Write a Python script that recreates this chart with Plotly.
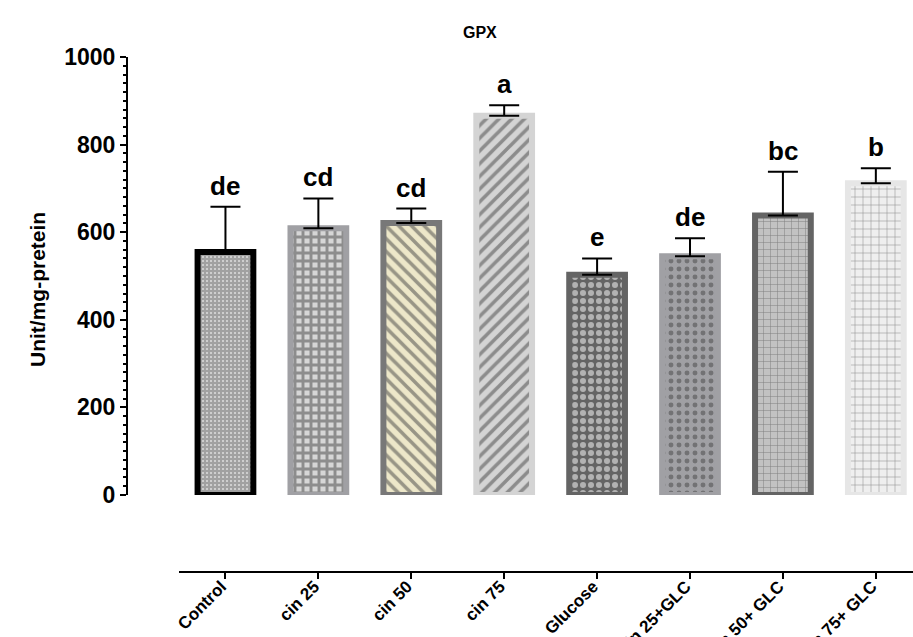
import plotly.graph_objects as go

categories = ["Control", "cin 25", "cin 50", "cin 75", "Glucose", "cin 25+GLC", "cin 50+ GLC", "cin 75+ GLC"]
means = [555, 609, 621, 866, 503, 545, 638, 712]
sem = [103, 68, 33, 24, 37, 41, 100, 34]
letters = ["de", "cd", "cd", "a", "e", "de", "bc", "b"]

border_colors = ["#000000", "#a0a0a4", "#787878", "#d4d4d4", "#646464", "#a0a0a4", "#646464", "#e6e6e6"]
pat_shapes = ["+", "+", "\\", "/", ".", ".", "+", "+"]
pat_fg = ["#000000", "#a9a9ad", "#7a7a7a", "#a6a6a6", "#d2d2d2", "#86868a", "#5a5a5a", "#d6d6d6"]
pat_bg = ["#ffffff", "#d6d6d6", "#ede7c9", "#d4d4d4", "#646464", "#a0a0a4", "#c2c2c2", "#efefef"]
pat_size = [4, 8, 9, 9, 8, 8, 7, 8]
pat_sol = [0.9, 0.6, 0.4, 0.4, 0.45, 0.3, 0.15, 0.15]

L, R, T, B = 127, 0, 57, 65
W, H = 913, 637
pw = W - L - R
ph = H - T - B
x_start = (179 - L) / pw
y0_frac = (572 - 495) / ph

fig = go.Figure()
fig.add_trace(go.Bar(
    x=categories, y=means, width=0.6,
    marker=dict(
        color=pat_bg,
        line=dict(color=border_colors, width=6),
        pattern=dict(shape=pat_shapes, fgcolor=pat_fg,
                     size=pat_size, solidity=pat_sol, fillmode="overlay"),
    ),
    error_y=dict(type="data", symmetric=False, array=sem, arrayminus=[0]*len(sem),
                 color="black", thickness=2, width=15),
    showlegend=False,
))

for c, m, s, t in zip(categories, means, sem, letters):
    fig.add_annotation(x=c, y=m + s, text=t, showarrow=False, yanchor="bottom",
                       yshift=4, font=dict(family="Liberation Sans", size=26, color="black", weight="bold"))

fig.add_annotation(xref="paper", yref="paper", x=(480 - L) / pw, y=(572 - 32) / ph,
                   xanchor="center", yanchor="middle",
                   text="<b>GPX</b>", showarrow=False, font=dict(family="Liberation Sans", size=16, color="black"))
fig.add_annotation(xref="paper", yref="paper", x=(37 - L) / pw, y=(572 - 290) / ph,
                   xanchor="center", yanchor="middle",
                   text="<b>Unit/mg-pretein</b>", showarrow=False, textangle=-90,
                   font=dict(family="Liberation Sans", size=21, color="black"))

fig.update_layout(
    width=W, height=H, margin=dict(l=L, r=R, t=T, b=B, autoexpand=False),
    plot_bgcolor="white", paper_bgcolor="white", bargap=0.4,
    xaxis=dict(domain=[x_start, 1], range=[-0.5, 7.4], anchor="free", position=0,
               showline=True, linecolor="black", linewidth=2, ticks="outside", ticklen=6,
               tickwidth=2, tickcolor="black", tickangle=-45, showgrid=False, automargin=False,
               ticklabelstandoff=-9, ticklabelshift=-4,
               tickfont=dict(family="Liberation Sans", size=17, color="black", weight="bold")),
    yaxis=dict(domain=[y0_frac, 1], range=[0, 1000], anchor="free", position=0,
               showline=True, linecolor="black", linewidth=2, ticks="outside", ticklen=6,
               tickwidth=2, tickcolor="black", dtick=200, showgrid=False, zeroline=False,
               automargin=False,
               minor=dict(dtick=20, ticks="outside", ticklen=3, tickwidth=2, tickcolor="black", showgrid=False),
               tickfont=dict(family="Liberation Sans", size=23, color="black", weight="bold")),
)

fig.write_html("out.html", config={"displayModeBar": False},
               post_script="document.body.style.margin='0';document.body.style.overflow='hidden';")
